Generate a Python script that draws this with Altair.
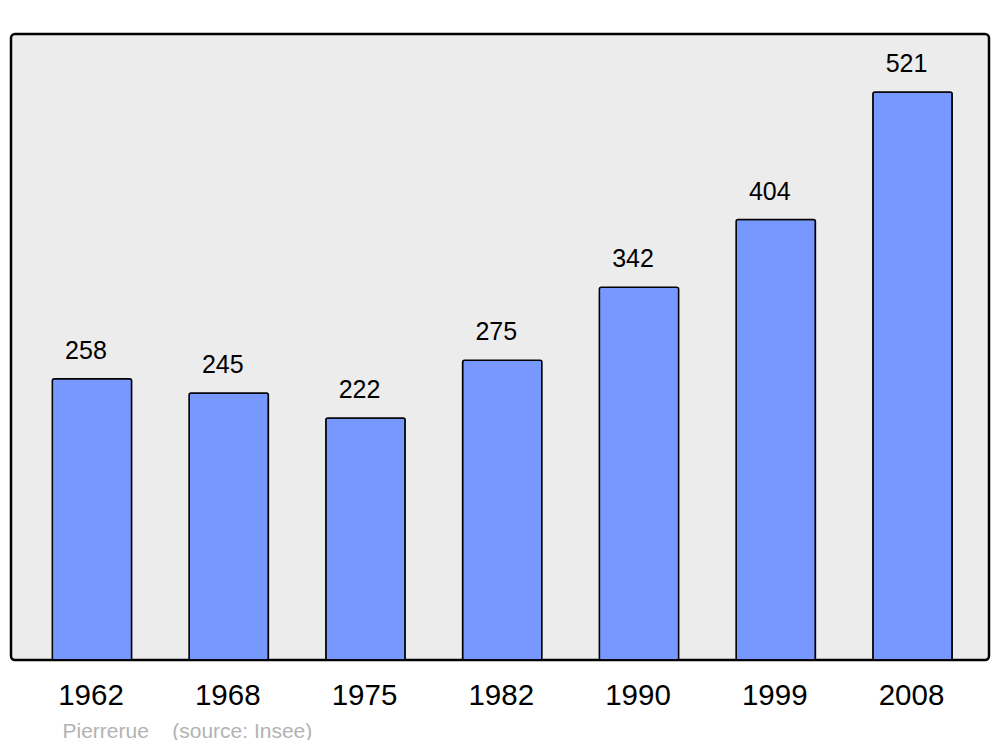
import altair as alt
import pandas as pd

years = ["1962", "1968", "1975", "1982", "1990", "1999", "2008"]
population = [258, 245, 222, 275, 342, 404, 521]
footer = "Pierrerue\u00a0\u00a0\u00a0\u00a0(source: Insee)"

df = pd.DataFrame({"year": years, "pop": population})

W, H = 978, 626

x = alt.X(
    "year:N",
    sort=years,
    scale=alt.Scale(range=[12.6, 969.9], paddingInner=0.42, paddingOuter=0.21),
    axis=alt.Axis(
        title=footer,
        titleFont="Liberation Sans",
        titleFontSize=21,
        titleFontWeight="normal",
        titleColor="#b3b3b3",
        titleAnchor="start",
        titleAlign="left",
        titleBaseline="alphabetic",
        titleX=51,
        titleY=77,
        labelFont="Liberation Sans",
        labelFontSize=29.5,
        labelColor="black",
        labelPadding=21,
        labelAngle=0,
        labelOffset=-1,
        domain=False,
        ticks=False,
        grid=False,
    ),
)
y = alt.Y("pop:Q", scale=alt.Scale(domain=[0, 574.2], nice=False, zero=True), axis=None)

bars = alt.Chart(df).mark_bar(
    color="#7799ff", stroke="black", strokeWidth=1.5, cornerRadius=2
).encode(x=x, y=y)

labels = alt.Chart(df).mark_text(
    font="Liberation Sans", fontSize=25, color="black", baseline="alphabetic", dy=-20, dx=-6
).encode(x=x, y=y, text="pop:Q")

chart = (
    alt.layer(bars, labels)
    .properties(
        width=W,
        height=H,
        autosize=alt.AutoSizeParams(type="none"),
        padding={"left": 3, "top": 26, "right": 3, "bottom": 80},
    )
    .configure_view(fill="#ececec", stroke="black", strokeWidth=2.5, cornerRadius=4)
)

chart.save("out.html", embed_options={"renderer": "svg", "actions": False})
